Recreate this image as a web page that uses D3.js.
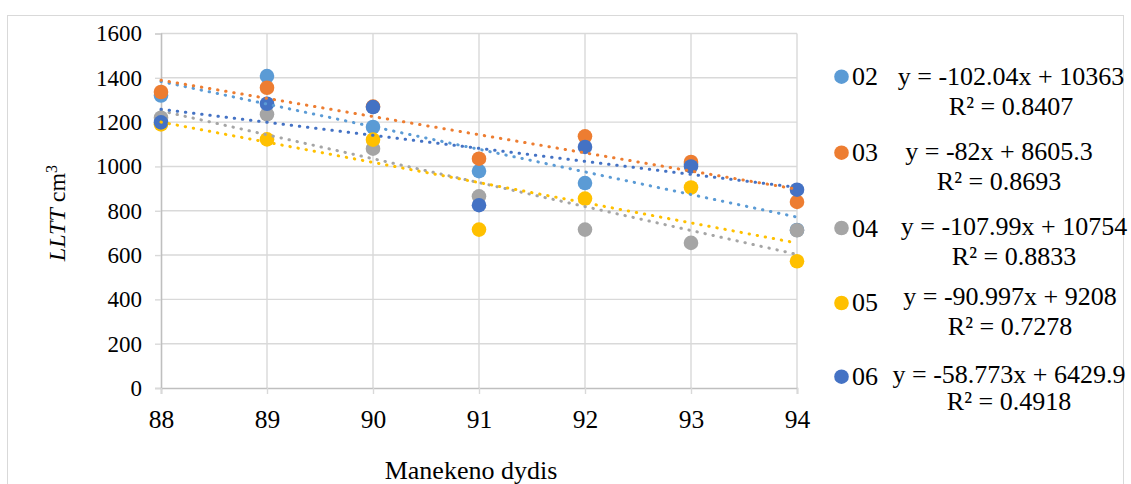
<!DOCTYPE html>
<html>
<head>
<meta charset="utf-8">
<script src="https://cdn.jsdelivr.net/npm/d3@7"></script>
<style>
  html, body { margin: 0; padding: 0; background: #fff; }
  svg { display: block; }
</style>
</head>
<body>
<svg id="chart" width="1131" height="484"></svg>
<script>
// ---- data ----
const sizes = [88, 89, 90, 91, 92, 93, 94];
const seriesNames = ["02", "03", "04", "05", "06"];
const s02 = [1320, 1408, 1178, 979, 925, 1011, 713];
const s03 = [1336, 1355, 1270, 1035, 1136, 1020, 840];
const s04 = [1220, 1235, 1080, 865, 715, 655, 712];
const s05 = [1190, 1122, 1121, 715, 855, 905, 572];
const s06 = [1199, 1283, 1268, 825, 1088, 1000, 895];
const slopes = [-102.04, -82, -107.99, -90.997, -58.773];
const intercepts = [10363, 8605.3, 10754, 9208, 6429.9];
const r2 = [0.8407, 0.8693, 0.8833, 0.7278, 0.4918];
const yTicks = [0, 200, 400, 600, 800, 1000, 1200, 1400, 1600];
const xTicks = [88, 89, 90, 91, 92, 93, 94];
const xTitle = "Manekeno dydis";

// ---- styles / layout ----
const FONT = "'Liberation Serif', 'Times New Roman', serif";
const colors = ["#5B9BD5", "#ED7D31", "#A5A5A5", "#FFC000", "#4472C4"];
const values = [s02, s03, s04, s05, s06];
const legendMarkerY = [76.7, 152.7, 228, 303, 376.7];
const legendLabelBase = [85, 161, 236.5, 311, 385];
const eqCenterX = [1011, 999, 1014, 1010, 1009];
const eqBase = [85, 160, 235, 305, 383];
const r2Base = [115, 190, 265, 335, 410];

const svg = d3.select("#chart");
const x = d3.scaleLinear().domain([88, 94]).range([161, 797]);
const y = d3.scaleLinear().domain([0, 1600]).range([388, 33.5]);

// chart area border
svg.append("rect").attr("x", 7.5).attr("y", 15.5).attr("width", 1116).attr("height", 520)
  .attr("fill", "#fff").attr("stroke", "#d9d9d9").attr("stroke-width", 1);

// gridlines
const gGrid = svg.append("g");
gGrid.selectAll("line.h").data(yTicks.filter(d => d > 0)).join("line")
  .attr("x1", x(88)).attr("x2", x(94)).attr("y1", d => y(d)).attr("y2", d => y(d))
  .attr("stroke", "#d9d9d9").attr("stroke-width", 1.4);
gGrid.selectAll("line.v").data(xTicks.filter(d => d > 88)).join("line")
  .attr("x1", d => x(d)).attr("x2", d => x(d)).attr("y1", y(0)).attr("y2", y(1600))
  .attr("stroke", "#d9d9d9").attr("stroke-width", 1.4);

// axes
const yAxis = d3.axisLeft(y).tickValues(yTicks).tickSize(6).tickPadding(13).tickFormat(d3.format("d"));
const gy = svg.append("g").attr("transform", `translate(${x(88)},0)`).call(yAxis)
  .attr("font-family", FONT);
gy.select(".domain").attr("stroke", "#bfbfbf").attr("stroke-width", 1.6);
gy.selectAll(".tick line").attr("stroke", "#d9d9d9").attr("stroke-width", 1.4);
gy.selectAll(".tick text").style("font-size", "23px").attr("fill", "#000");

const xAxis = d3.axisBottom(x).tickValues(xTicks).tickSize(6).tickPadding(16).tickFormat(d3.format("d"));
const gx = svg.append("g").attr("transform", `translate(0,${y(0)})`).call(xAxis)
  .attr("font-family", FONT);
gx.select(".domain").attr("stroke", "#bfbfbf").attr("stroke-width", 1.6);
gx.selectAll(".tick line").attr("stroke", "#d9d9d9").attr("stroke-width", 1.4);
gx.selectAll(".tick text").style("font-size", "25.5px").attr("fill", "#000");

// axis titles
svg.append("text").attr("x", 471).attr("y", 478.5).attr("text-anchor", "middle")
  .style("font-size", "26px").text(xTitle);

const yt = svg.append("text").attr("text-anchor", "middle")
  .attr("transform", "translate(65,213) rotate(-90)").style("font-size", "24px");
yt.append("tspan").attr("font-style", "italic").text("LLTT");
yt.append("tspan").text(" cm");
yt.append("tspan").attr("baseline-shift", "super").style("font-size", "16px").text("3");

// markers
values.forEach((vals, i) => {
  svg.append("g").selectAll("circle").data(vals).join("circle")
    .attr("cx", (d, j) => x(sizes[j])).attr("cy", d => y(d)).attr("r", 7.3)
    .attr("fill", colors[i]);
});

// trendlines (linear, from the fitted equations)
values.forEach((vals, i) => {
  const xs = d3.extent(sizes);
  svg.append("line")
    .attr("x1", x(xs[0])).attr("y1", y(slopes[i] * xs[0] + intercepts[i]))
    .attr("x2", x(xs[1])).attr("y2", y(slopes[i] * xs[1] + intercepts[i]))
    .attr("stroke", colors[i]).attr("stroke-width", 3)
    .attr("stroke-linecap", "round").attr("stroke-dasharray", "0.4 7.8");
});

// legend + equations
seriesNames.forEach((name, i) => {
  svg.append("circle").attr("cx", 841.5).attr("cy", legendMarkerY[i]).attr("r", 7.3).attr("fill", colors[i]);
  svg.append("text").attr("x", 852).attr("y", legendLabelBase[i]).style("font-size", "26px").text(name);
  const eq = `y = ${slopes[i]}x + ${intercepts[i]}`;
  svg.append("text").attr("x", eqCenterX[i]).attr("y", eqBase[i]).attr("text-anchor", "middle")
    .style("font-size", "26px").text(eq);
  svg.append("text").attr("x", eqCenterX[i]).attr("y", r2Base[i]).attr("text-anchor", "middle")
    .style("font-size", "26px").text(`R\u00B2 = ${r2[i]}`);
});

// font for every text element
svg.selectAll("text").style("font-family", FONT).style("fill", "#000");
</script>
</body>
</html>
